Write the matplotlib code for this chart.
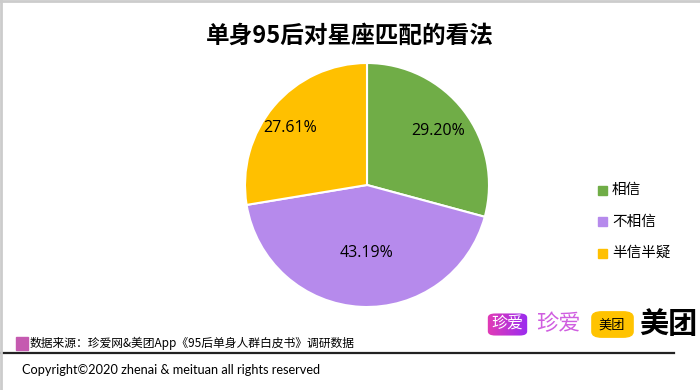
import numpy as np
import matplotlib.pyplot as plt
from matplotlib.patches import Rectangle, FancyBboxPatch
from matplotlib.lines import Line2D
from matplotlib.colors import LinearSegmentedColormap

plt.rcParams['font.family'] = ['Noto Sans CJK SC', 'DejaVu Sans']

title = '单身95后对星座匹配的看法'
labels = ['相信', '不相信', '半信半疑']
values = [29.20, 43.19, 27.61]
colors = ['#70AD47', '#B68AEC', '#FFC000']
source = '数据来源：珍爱网&美团App《95后单身人群白皮书》调研数据'
copyright_txt = 'Copyright©2020 zhenai & meituan all rights reserved'

W, H = 700, 390
fig = plt.figure(figsize=(7, 3.9), dpi=100)

def px(x, y):
    return x / W, 1 - y / H

# pie axes: centre (367,185), radius 122
ax = fig.add_axes([245 / W, 1 - 307 / H, 244 / W, 244 / H])
wedges, texts, autotexts = ax.pie(values, colors=colors, startangle=90, counterclock=False,
                                  autopct='%.2f%%', pctdistance=0.7,
                                  wedgeprops=dict(edgecolor='white', linewidth=1.5),
                                  textprops=dict(fontsize=11.5, color='black',
                                                 family=['Open Sans', 'DejaVu Sans']))
# nudge labels like the original's best-fit placement
autotexts[1].set_position((0.0, -0.56))
autotexts[2].set_position((-0.63, 0.47))
autotexts[0].set_position((0.58, 0.44))
ax.set_xlim(-1, 1)
ax.set_ylim(-1, 1)
ax.set_aspect('equal')
ax.axis('off')

fig.text(*px(350, 36), title, ha='center', va='center', fontsize=17, fontweight='bold')

# legend
for i, (lab, c) in enumerate(zip(labels, colors)):
    y = 190 + i * 31.5
    fig.patches.append(Rectangle(px(598, y + 4.5), 9 / W, 9 / H, transform=fig.transFigure,
                                 color=c, figure=fig))
    fig.text(*px(612, y), lab, ha='left', va='center', fontsize=10.5)

# footer
fig.patches.append(Rectangle(px(16, 350), 12 / W, 13 / H, transform=fig.transFigure,
                             color='#C55AB0', figure=fig))
fig.text(*px(30, 343), source, ha='left', va='center', fontsize=8.5)
fig.lines.append(Line2D([0, 674 / W], [1 - 353 / H] * 2, transform=fig.transFigure,
                        color='#222222', linewidth=1.6))
fig.text(*px(22, 370), copyright_txt, ha='left', va='center', fontsize=9.2,
         family=['Lato', 'DejaVu Sans'])

# logos
lax = fig.add_axes([487 / W, 1 - 336 / H, 41 / W, 23 / H])
lax.axis('off')
grad = np.linspace(0, 1, 64).reshape(1, -1)
cm = LinearSegmentedColormap.from_list('za', ['#E23BB5', '#9A2CF0'])
im = lax.imshow(grad, cmap=cm, aspect='auto', extent=[0, 1, 0, 1])
clip = FancyBboxPatch((0.02, 0.02), 0.96, 0.96, boxstyle='round,pad=0,rounding_size=0.18',
                      transform=lax.transAxes, facecolor='none', edgecolor='none')
lax.add_patch(clip)
im.set_clip_path(clip)
lax.set_xlim(0, 1)
lax.set_ylim(0, 1)
lax.text(0.5, 0.5, '珍爱', ha='center', va='center', fontsize=11.5, color='white',
         transform=lax.transAxes)

fig.text(*px(558, 324), '珍爱', ha='center', va='center', fontsize=16, color='#D05EE0')
fig.patches.append(FancyBboxPatch(px(594, 336), 37 / W, 23 / H,
                                  boxstyle='round,pad=0.003,rounding_size=0.014',
                                  transform=fig.transFigure, color='#FFC300', figure=fig))
fig.text(*px(612, 325), '美团', ha='center', va='center', fontsize=9.5, color='black')
fig.text(*px(668, 324), '美团', ha='center', va='center', fontsize=21, color='black',
         fontweight='bold')

# frame at top and left
fig.lines.append(Line2D([0, 1], [1 - 1 / H] * 2, transform=fig.transFigure, color='#CCCCCC', linewidth=2))
fig.lines.append(Line2D([1 / W] * 2, [0, 1], transform=fig.transFigure, color='#CCCCCC', linewidth=2))

fig.savefig('out.png', dpi=100, facecolor='white')
